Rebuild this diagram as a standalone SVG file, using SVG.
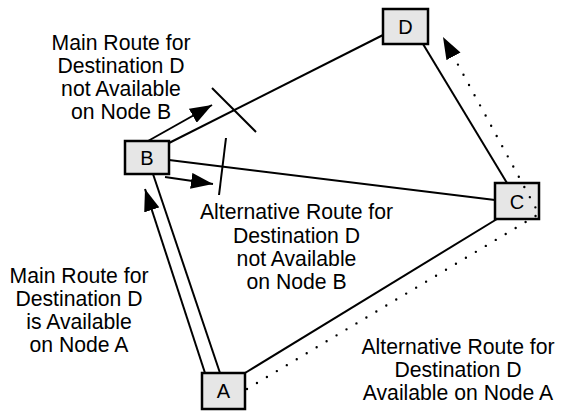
<svg xmlns="http://www.w3.org/2000/svg" width="561" height="411" viewBox="0 0 561 411">
  <style>
    .node rect { fill: #e6e6e6; stroke: #000; stroke-width: 2.5; }
    .node text { font-family: "Liberation Sans", Arial, sans-serif; font-size: 20px; text-anchor: middle; fill: #000; }
    .link { stroke: #000; stroke-width: 2; fill: none; }
    .dots { stroke: #000; stroke-width: 2.4; fill: none; stroke-linecap: round; stroke-dasharray: 0 11.6; }
    .label { font-family: "Liberation Sans", Arial, sans-serif; font-size: 21.2px; text-anchor: middle; fill: #000; }
  </style>
  <defs>
    <marker id="arrow" viewBox="0 0 22 16" refX="22" refY="8" markerWidth="22" markerHeight="16" markerUnits="userSpaceOnUse" orient="auto">
      <path d="M0,0 L22,8 L0,16 z" fill="#000"/>
    </marker>
  </defs>

  <rect width="561" height="411" fill="#fff"/>

  <!-- route links between the nodes -->
  <g id="connectors">
    <line class="link" x1="169" y1="143" x2="383" y2="35"/>
    <line class="link" x1="169" y1="160" x2="495" y2="200"/>
    <line class="link" x1="423" y1="44" x2="507" y2="183"/>
    <line class="link" x1="245" y1="373" x2="497" y2="219"/>
    <line class="link" x1="220" y1="373" x2="153" y2="174"/>
    <line class="link" x1="205" y1="373" x2="145" y2="189" marker-end="url(#arrow)"/>
    <line class="link" x1="148" y1="141" x2="212" y2="105" marker-end="url(#arrow)"/>
    <line class="link" x1="165" y1="177" x2="213" y2="184" marker-end="url(#arrow)"/>
    <!-- break marks on the unavailable routes -->
    <line class="link" x1="212" y1="88" x2="256" y2="132"/>
    <line class="link" x1="226" y1="138" x2="219" y2="195"/>
  </g>

  <g id="node-B" class="node">
    <rect x="125" y="141" width="44" height="33"/>
    <text x="147" y="164.5">B</text>
  </g>
  <g id="node-D" class="node">
    <rect x="383" y="9" width="45" height="35"/>
    <text x="405.5" y="33.5">D</text>
  </g>
  <g id="node-C" class="node">
    <rect x="495" y="183" width="44" height="36"/>
    <text x="517" y="208.5">C</text>
  </g>
  <g id="node-A" class="node">
    <rect x="202" y="373" width="43" height="36"/>
    <text x="223.5" y="397.5">A</text>
  </g>

  <!-- alternative route A -> C -> D, drawn over the nodes -->
  <g id="alt-route">
    <polyline class="dots" points="247,389 539,214 443,37" marker-end="url(#arrow)"/>
  </g>

  <g id="labels">
    <text class="label" x="121" y="50">Main Route for</text>
    <text class="label" x="121" y="73">Destination D</text>
    <text class="label" x="121" y="96">not Available</text>
    <text class="label" x="121" y="119">on Node B</text>

    <text class="label" x="296.5" y="219">Alternative Route for</text>
    <text class="label" x="296.5" y="242.5">Destination D</text>
    <text class="label" x="296.5" y="266">not Available</text>
    <text class="label" x="296.5" y="289">on Node B</text>

    <text class="label" x="79" y="283">Main Route for</text>
    <text class="label" x="79" y="306">Destination D</text>
    <text class="label" x="79" y="329">is Available</text>
    <text class="label" x="79" y="352">on Node A</text>

    <text class="label" x="458" y="354">Alternative Route for</text>
    <text class="label" x="458" y="377">Destination D</text>
    <text class="label" x="458" y="400">Available on Node A</text>
  </g>
</svg>
